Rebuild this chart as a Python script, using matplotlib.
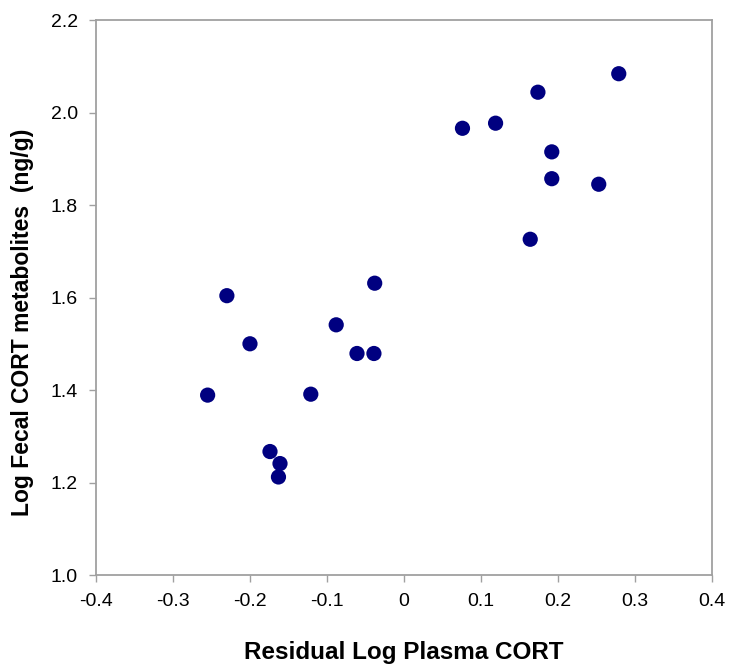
import matplotlib
matplotlib.use("Agg")
import matplotlib.pyplot as plt

# residual log plasma CORT vs log fecal CORT metabolites
resid_plasma = [-0.255, -0.230, -0.200, -0.121, -0.174, -0.161, -0.163,
                -0.088, -0.061, -0.039, -0.038,
                0.076, 0.119, 0.174, 0.279, 0.192, 0.192, 0.253, 0.164]
log_fecal = [1.389, 1.604, 1.500, 1.391, 1.267, 1.241, 1.212,
             1.541, 1.479, 1.479, 1.631,
             1.966, 1.977, 2.044, 2.084, 1.915, 1.857, 1.845, 1.726]

xticks = [-0.4, -0.3, -0.2, -0.1, 0, 0.1, 0.2, 0.3, 0.4]
xtick_labels = ["-0.4", "-0.3", "-0.2", "-0.1", "0", "0.1", "0.2", "0.3", "0.4"]
yticks = [1.0, 1.2, 1.4, 1.6, 1.8, 2.0, 2.2]

plt.rcParams["font.family"] = ["Liberation Sans", "DejaVu Sans"]

fig = plt.figure(figsize=(7.35, 6.69), dpi=100)
ax = fig.add_axes([0.1306, 0.1405, 0.838, 0.8295])

ax.scatter(resid_plasma, log_fecal, s=120, color="#000080", zorder=3,
           edgecolors="none")

ax.set_xlim(-0.4, 0.4)
ax.set_ylim(1.0, 2.2)
ax.set_xticks(xticks)
ax.set_xticklabels(xtick_labels)
ax.set_yticks(yticks)
ax.set_yticklabels([f"{v:.1f}" for v in yticks])

for sp in ax.spines.values():
    sp.set_color("#a0a0a0")
    sp.set_linewidth(1.3)
ax.tick_params(direction="out", length=5, width=1, color="#a0a0a0",
               labelsize=14, pad=8)

ax.set_xlabel("Residual Log Plasma CORT", fontsize=17.5, fontweight="bold")
ax.set_ylabel("Log Fecal CORT metabolites  (ng/g)", fontsize=16.5,
              fontweight="bold")
ax.xaxis.label.set_va("center")
ax.yaxis.label.set_va("center")
ax.xaxis.set_label_coords(0.5, -0.139)
ax.yaxis.set_label_coords(-0.12, 0.456)

fig.savefig("out.png", dpi=100)
